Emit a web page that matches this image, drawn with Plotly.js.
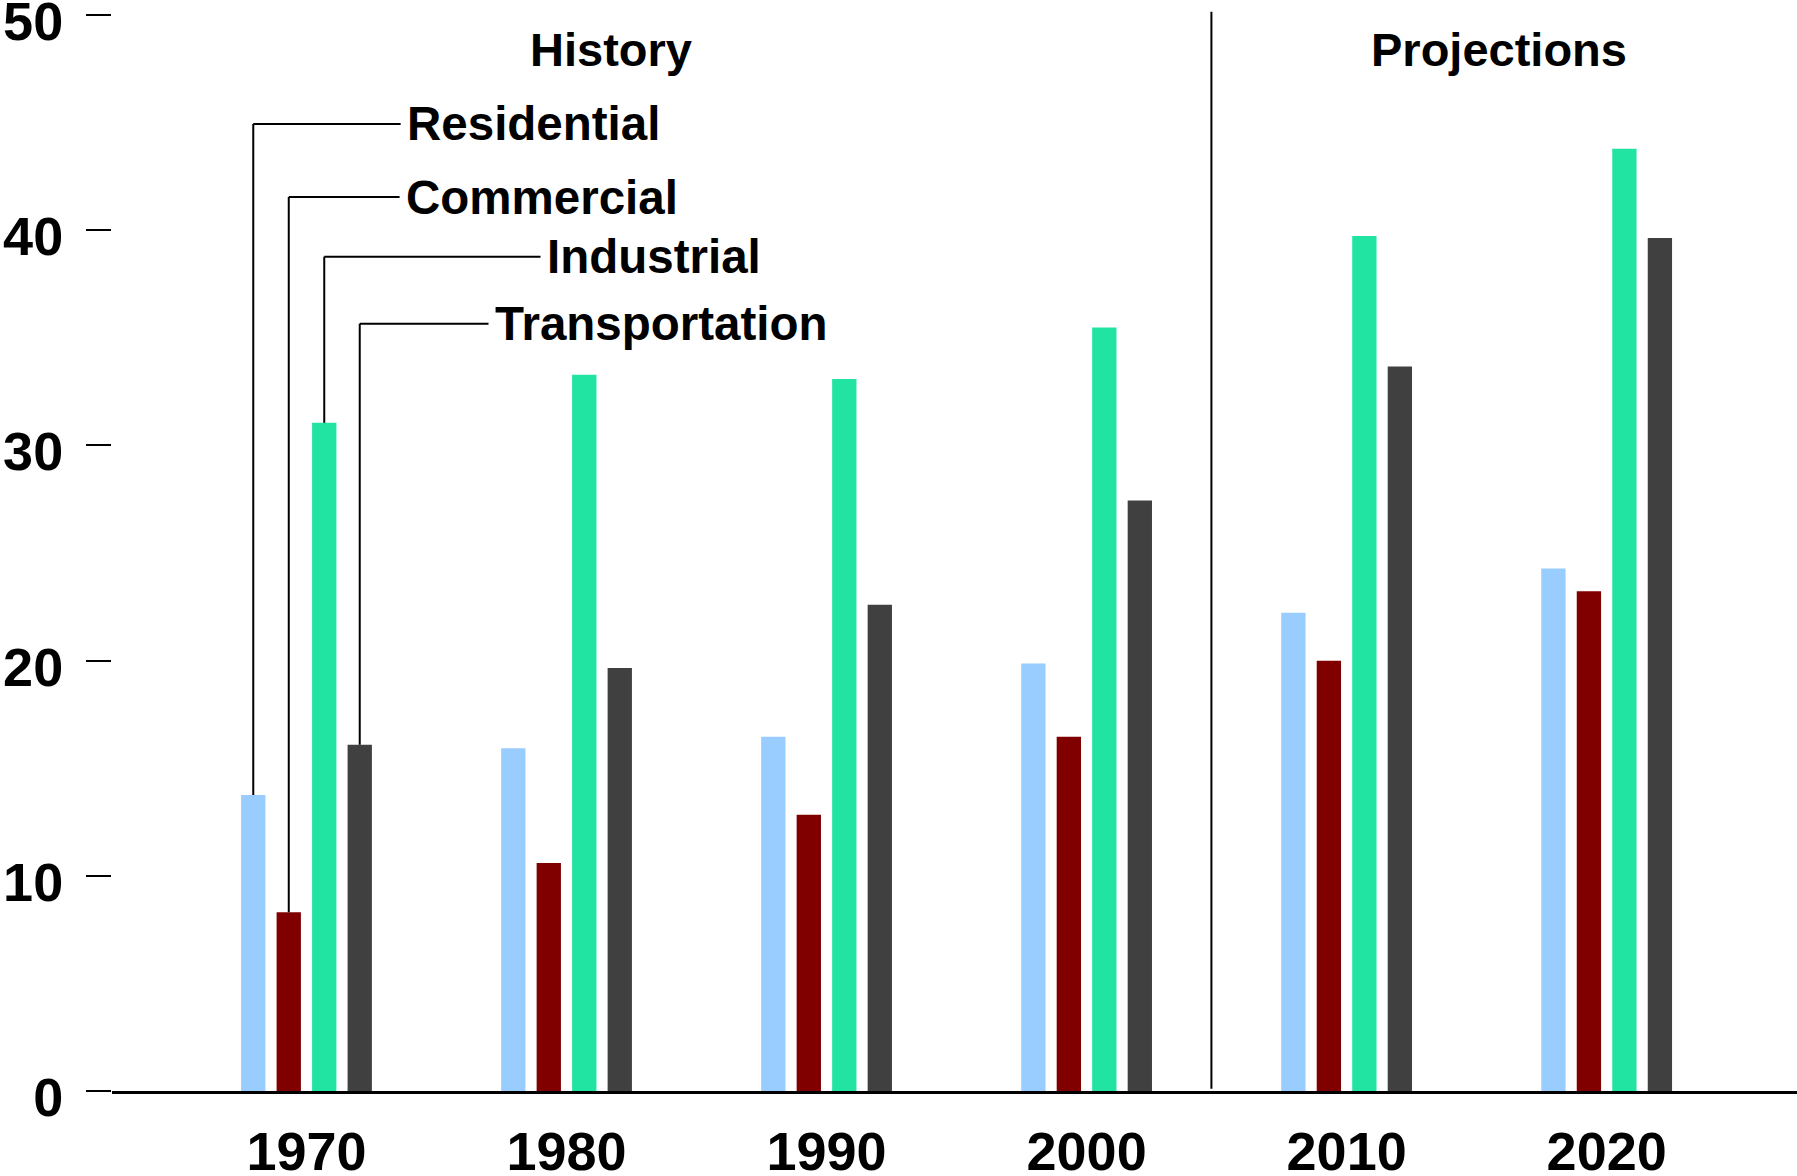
<!DOCTYPE html>
<html>
<head>
<meta charset="utf-8">
<script src="https://cdn.plot.ly/plotly-3.0.1.min.js"></script>
<style>
  html, body { margin: 0; padding: 0; background: #ffffff; }
  #chart { width: 1797px; height: 1176px; }
</style>
</head>
<body>
<div id="chart"></div>
<script>
// ---- Data ----
const categories = ['1970', '1980', '1990', '2000', '2010', '2020'];
const residential    = [13.75, 15.93, 16.46, 19.87, 22.22, 24.28];
const commercial     = [8.31, 10.60, 12.84, 16.46, 19.99, 23.22];
const industrial     = [31.05, 33.28, 33.08, 35.48, 39.73, 43.78];
const transportation = [16.09, 19.66, 22.59, 27.44, 33.67, 39.64];
const seriesNames  = ['Residential', 'Commercial', 'Industrial', 'Transportation'];
const seriesColors = ['#99CCFF', '#800000', '#21E3A2', '#404040'];
const yTickValues  = [0, 10, 20, 30, 40, 50];
const sectionLabels = ['History', 'Projections'];

const seriesValues = [residential, commercial, industrial, transportation];

// ---- Layout settings ----
const FONT = 'Liberation Sans, Arial, Helvetica, sans-serif';
const BARGAP = 0.454;
const BARGROUPGAP = 0.315;
const slot = (1 - BARGAP) / seriesValues.length;

// label placement for the callouts (text left x, label y) in axis units
const callouts = [
  { x: 0.379, y: 44.94 },
  { x: 0.375, y: 41.54 },
  { x: 0.917, y: 38.77 },
  { x: 0.717, y: 35.65 }
];
const calloutGap = 0.017;

const traces = seriesValues.map((vals, i) => ({
  type: 'bar',
  name: seriesNames[i],
  x: categories,
  y: vals,
  marker: { color: seriesColors[i], line: { width: 0 } },
  hoverinfo: 'skip'
}));

const shapes = [];
const annotations = [];

// callout leaders: from the top of each series' first bar up to its label
seriesValues.forEach((vals, i) => {
  const bx = 0 + (i - (seriesValues.length - 1) / 2) * slot;
  const c = callouts[i];
  shapes.push({
    type: 'line', xref: 'x', yref: 'y',
    x0: bx, x1: bx, y0: vals[0], y1: c.y,
    line: { color: '#000000', width: 2 }
  });
  shapes.push({
    type: 'line', xref: 'x', yref: 'y',
    x0: bx, x1: c.x - calloutGap, y0: c.y, y1: c.y,
    line: { color: '#000000', width: 2 }
  });
  annotations.push({
    xref: 'x', yref: 'y', x: c.x, y: c.y,
    xanchor: 'left', yanchor: 'middle',
    text: seriesNames[i], showarrow: false,
    font: { family: FONT, size: 47.5, color: '#000000', weight: 'bold' }
  });
});

// divider between history and projections
shapes.push({
  type: 'line', xref: 'x', yref: 'paper',
  x0: 3.48, x1: 3.48, y0: 0.002, y1: 1.003,
  line: { color: '#000000', width: 2 }
});

const sectionX = [1.171, 4.587];
sectionLabels.forEach((t, i) => {
  annotations.push({
    xref: 'x', yref: 'y', x: sectionX[i], y: 48.42,
    xanchor: 'center', yanchor: 'middle',
    text: t, showarrow: false,
    font: { family: FONT, size: 47, color: '#000000', weight: 'bold' }
  });
});

const layout = {
  width: 1797,
  height: 1176,
  margin: { l: 112, r: 0, t: 15, b: 85, pad: 0 },
  paper_bgcolor: '#ffffff',
  plot_bgcolor: '#ffffff',
  showlegend: false,
  barmode: 'group',
  bargap: BARGAP,
  bargroupgap: BARGROUPGAP,
  font: { family: FONT, color: '#000000' },
  xaxis: {
    type: 'category',
    categoryorder: 'array',
    categoryarray: categories,
    range: [-0.748, 5.732],
    showgrid: false,
    zeroline: false,
    showline: true,
    linecolor: '#000000',
    linewidth: 2.5,
    ticks: '',
    ticklabelstandoff: 12,
    tickfont: { family: FONT, size: 54, color: '#000000', weight: 'bold' },
    fixedrange: true
  },
  yaxis: {
    range: [0, 50],
    tickmode: 'array',
    tickvals: yTickValues,
    ticktext: yTickValues.map(String),
    showgrid: false,
    zeroline: false,
    showline: false,
    ticks: 'outside',
    ticklen: 25,
    tickwidth: 2,
    tickcolor: '#000000',
    ticklabelstandoff: 12,
    ticklabelshift: 6,
    ticklabeloverflow: 'allow',
    tickfont: { family: FONT, size: 54, color: '#000000', weight: 'bold' },
    fixedrange: true
  },
  shapes: shapes,
  annotations: annotations
};

Plotly.newPlot('chart', traces, layout, { displayModeBar: false, staticPlot: true });
</script>
</body>
</html>
